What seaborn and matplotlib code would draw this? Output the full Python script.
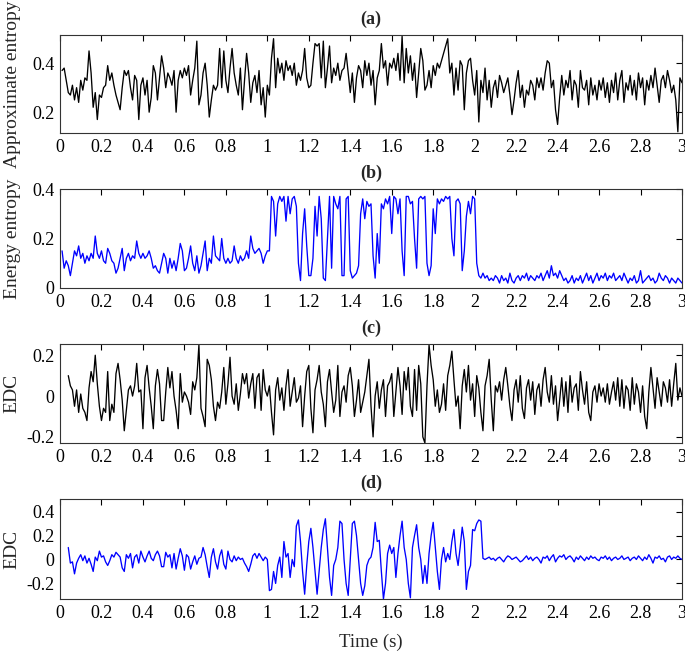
import numpy as np
import pandas as pd
import matplotlib
matplotlib.use("Agg")
import matplotlib.pyplot as plt
import seaborn as sns

# ---------------- data (step 0.01 s) ----------------
t_a_start = 0.01
approx_entropy = [
    0.37, 0.38, 0.33, 0.28, 0.27, 0.31, 0.25, 0.30, 0.24, 0.33,
    0.29, 0.34, 0.33, 0.45, 0.36, 0.22, 0.28, 0.17, 0.27, 0.26,
    0.30, 0.31, 0.39, 0.33, 0.36, 0.31, 0.27, 0.24, 0.21, 0.30,
    0.37, 0.35, 0.37, 0.30, 0.25, 0.35, 0.33, 0.17, 0.31, 0.34,
    0.27, 0.33, 0.20, 0.26, 0.39, 0.36, 0.25, 0.34, 0.43, 0.38,
    0.30, 0.36, 0.34, 0.31, 0.37, 0.20, 0.33, 0.37, 0.34, 0.38,
    0.35, 0.39, 0.27, 0.33, 0.38, 0.49, 0.23, 0.27, 0.36, 0.40,
    0.31, 0.18, 0.25, 0.31, 0.29, 0.31, 0.46, 0.30, 0.45, 0.33,
    0.28, 0.38, 0.46, 0.36, 0.31, 0.27, 0.38, 0.21, 0.33, 0.44,
    0.36, 0.24, 0.32, 0.35, 0.28, 0.37, 0.23, 0.30, 0.18, 0.31,
    0.27, 0.42, 0.50, 0.30, 0.42, 0.36, 0.40, 0.33, 0.41, 0.37,
    0.39, 0.35, 0.40, 0.31, 0.36, 0.33, 0.37, 0.46, 0.34, 0.30,
    0.31, 0.40, 0.48, 0.47, 0.48, 0.34, 0.49, 0.30, 0.38, 0.47,
    0.32, 0.38, 0.35, 0.40, 0.33, 0.37, 0.38, 0.44, 0.36, 0.28,
    0.36, 0.24, 0.34, 0.39, 0.37, 0.30, 0.41, 0.35, 0.40, 0.31,
    0.37, 0.23, 0.34, 0.37, 0.48, 0.38, 0.41, 0.31, 0.40, 0.38,
    0.42, 0.37, 0.44, 0.33, 0.51, 0.32, 0.46, 0.36, 0.43, 0.33,
    0.40, 0.26, 0.36, 0.46, 0.41, 0.29, 0.31, 0.37, 0.30, 0.39,
    0.35, 0.40, 0.38, 0.41, 0.44, 0.47, 0.50, 0.36, 0.40, 0.27,
    0.38, 0.29, 0.41, 0.39, 0.21, 0.36, 0.41, 0.42, 0.33, 0.27,
    0.37, 0.16, 0.33, 0.28, 0.38, 0.25, 0.33, 0.22, 0.30, 0.33,
    0.26, 0.35, 0.32, 0.28, 0.31, 0.34, 0.27, 0.19, 0.25, 0.32,
    0.37, 0.26, 0.31, 0.22, 0.29, 0.27, 0.33, 0.31, 0.25, 0.34,
    0.30, 0.34, 0.29, 0.36, 0.41, 0.40, 0.30, 0.33, 0.21, 0.15,
    0.26, 0.35, 0.27, 0.33, 0.30, 0.37, 0.25, 0.33, 0.31, 0.22,
    0.37, 0.30, 0.29, 0.33, 0.23, 0.34, 0.27, 0.31, 0.25, 0.33,
    0.29, 0.34, 0.26, 0.32, 0.24, 0.33, 0.28, 0.36, 0.25, 0.33,
    0.37, 0.24, 0.32, 0.29, 0.35, 0.27, 0.33, 0.25, 0.36, 0.30,
    0.34, 0.23, 0.33, 0.29, 0.35, 0.30, 0.38, 0.31, 0.24, 0.33,
    0.35, 0.30, 0.37, 0.33, 0.28, 0.31, 0.25, 0.12, 0.34, 0.32,
]

t_b_start = 0.01
energy_entropy = [
    0.15, 0.08, 0.11, 0.09, 0.05, 0.10, 0.15, 0.13, 0.17, 0.12,
    0.14, 0.10, 0.13, 0.11, 0.14, 0.12, 0.21, 0.14, 0.12, 0.15,
    0.11, 0.10, 0.16, 0.14, 0.11, 0.10, 0.06, 0.08, 0.12, 0.16,
    0.07, 0.12, 0.14, 0.11, 0.13, 0.12, 0.19, 0.14, 0.12, 0.14,
    0.12, 0.13, 0.15, 0.12, 0.08, 0.09, 0.07, 0.06, 0.10, 0.14,
    0.12, 0.06, 0.12, 0.08, 0.11, 0.07, 0.12, 0.18, 0.15, 0.07,
    0.08, 0.12, 0.17, 0.10, 0.07, 0.13, 0.06, 0.09, 0.14, 0.19,
    0.07, 0.12, 0.10, 0.21, 0.13, 0.12, 0.11, 0.20, 0.12, 0.10,
    0.12, 0.10, 0.11, 0.17, 0.12, 0.10, 0.13, 0.11, 0.12, 0.15,
    0.12, 0.21, 0.16, 0.14, 0.15, 0.16, 0.14, 0.10, 0.13, 0.15,
    0.15, 0.37, 0.35, 0.21, 0.34, 0.37, 0.35, 0.37, 0.27, 0.37,
    0.30, 0.36, 0.37, 0.33, 0.10, 0.03, 0.22, 0.32, 0.17, 0.05,
    0.05, 0.12, 0.33, 0.21, 0.37, 0.28, 0.04, 0.03, 0.20, 0.37,
    0.08, 0.37, 0.34, 0.32, 0.37, 0.05, 0.05, 0.36, 0.37, 0.07,
    0.04, 0.05, 0.06, 0.09, 0.30, 0.36, 0.28, 0.35, 0.33, 0.34,
    0.13, 0.04, 0.22, 0.10, 0.34, 0.32, 0.36, 0.34, 0.37, 0.22,
    0.37, 0.36, 0.30, 0.36, 0.15, 0.05, 0.37, 0.37, 0.34, 0.35,
    0.20, 0.08, 0.36, 0.37, 0.36, 0.37, 0.10, 0.05, 0.09, 0.32,
    0.22, 0.36, 0.34, 0.36, 0.35, 0.37, 0.36, 0.37, 0.20, 0.13,
    0.35, 0.36, 0.34, 0.07, 0.15, 0.29, 0.35, 0.30, 0.37, 0.36,
    0.10, 0.05, 0.04, 0.06, 0.04, 0.05, 0.03, 0.04, 0.03, 0.05,
    0.04, 0.02, 0.05, 0.03, 0.04, 0.02, 0.06, 0.03, 0.02, 0.04,
    0.05, 0.03, 0.05, 0.04, 0.06, 0.03, 0.05, 0.04, 0.03, 0.05,
    0.04, 0.06, 0.03, 0.05, 0.07, 0.04, 0.09, 0.05, 0.06, 0.04,
    0.07, 0.05, 0.03, 0.04, 0.02, 0.03, 0.05, 0.02, 0.04, 0.03,
    0.05, 0.02, 0.04, 0.06, 0.03, 0.05, 0.02, 0.04, 0.06, 0.03,
    0.05, 0.04, 0.06, 0.03, 0.05, 0.04, 0.06, 0.03, 0.04, 0.05,
    0.03, 0.06, 0.04, 0.02, 0.04, 0.03, 0.05, 0.02, 0.03, 0.07,
    0.02, 0.03, 0.04, 0.05, 0.03, 0.04, 0.02, 0.03, 0.06, 0.04,
    0.03, 0.05, 0.04, 0.02, 0.04, 0.03, 0.02, 0.04, 0.03, 0.02,
]

t_c_start = 0.04
edc_c = [
    0.10, 0.05, 0.03, -0.05, 0.03, -0.08, 0.01,
    -0.06, -0.08, -0.12, 0.04, 0.12, 0.07, 0.20, 0.06, -0.05, -0.12,
    -0.06, -0.08, 0.12, -0.12, -0.04, -0.08, 0.11, 0.16, 0.08, -0.02,
    -0.17, -0.07, 0.03, 0.05, 0.00, 0.05, 0.16, 0.02, 0.03, -0.16,
    0.09, 0.15, 0.04, -0.05, -0.16, 0.05, 0.13, 0.06, -0.12, -0.12,
    0.02, 0.14, 0.04, 0.12, 0.00, -0.07, -0.16, 0.11, -0.03, 0.02,
    0.00, -0.03, -0.09, 0.07, 0.03, 0.09, 0.25, -0.06, -0.10, -0.15,
    0.18, 0.15, 0.08, -0.05, -0.12, -0.03, -0.06, 0.02, 0.14, -0.04,
    0.06, 0.19, 0.00, -0.04, 0.06, -0.07, 0.01, 0.11, 0.06, 0.11,
    -0.01, 0.06, 0.11, -0.06, 0.09, 0.11, -0.07, 0.13, 0.03, 0.00,
    0.05, -0.08, -0.19, 0.03, 0.09, -0.02, 0.04, -0.07, 0.05, 0.13,
    -0.05, 0.02, 0.09, -0.03, -0.01, 0.05, -0.15, 0.00, 0.12, 0.15,
    -0.06, -0.18, 0.03, 0.08, 0.15, 0.02, -0.04, -0.15, 0.07, 0.13,
    0.02, -0.08, -0.02, 0.15, -0.10, 0.02, 0.05, -0.03, 0.10, 0.14,
    0.05, -0.10, -0.02, 0.08, -0.08, -0.03, 0.02, 0.10, 0.18, -0.05,
    -0.20, 0.00, 0.07, -0.06, 0.03, 0.08, -0.10, 0.05, 0.07, 0.11,
    -0.10, 0.02, 0.14, 0.05, -0.09, 0.12, 0.03, 0.14, -0.05, -0.10,
    0.13, -0.07, 0.15, 0.06, -0.20, -0.23, 0.05, 0.25, 0.15, 0.08,
    -0.05, 0.03, -0.08, -0.04, 0.06, -0.07, 0.10, 0.15, 0.22, 0.08,
    -0.05, 0.00, -0.16, 0.05, 0.13, 0.02, 0.15, -0.02, 0.06, -0.10,
    0.10, 0.04, -0.08, -0.17, 0.05, 0.10, 0.18, -0.02, -0.17, 0.05,
    0.02, 0.07, -0.02, 0.08, 0.14, 0.05, -0.05, -0.12, 0.03, 0.08,
    -0.03, 0.10, -0.06, -0.11, 0.04, 0.08, -0.02, 0.07, -0.09, 0.03,
    0.06, -0.05, 0.08, 0.14, 0.02, -0.03, 0.10, -0.04, 0.05, -0.12,
    -0.02, 0.09, -0.05, 0.07, -0.08, 0.10, -0.03, 0.04, 0.06, -0.07,
    0.12, 0.03, -0.04, 0.07, -0.08, -0.12, 0.02, 0.05, -0.03, 0.06,
    0.00, 0.04, -0.03, 0.06, -0.04, 0.02, 0.07, -0.02, 0.09, -0.05,
    0.08, -0.06, 0.05, 0.03, -0.07, 0.09, -0.04, 0.06, 0.02, -0.08,
    0.05, -0.10, -0.16, 0.02, 0.14, 0.04, -0.06, 0.09, 0.02, -0.05,
    0.07, 0.04, -0.03, 0.08, -0.05, 0.06, 0.16, -0.02, 0.04, 0.00,
]

t_d_start = 0.04
edc_d = [
    0.10, -0.03, -0.02, -0.12, -0.03, 0.01, 0.04,
    -0.01, 0.03, -0.03, 0.01, -0.04, -0.10, 0.02, -0.01, 0.07, 0.02,
    0.03, -0.02, -0.05, -0.01, 0.04, 0.02, 0.06, 0.04, 0.02, -0.07,
    -0.10, 0.04, 0.01, 0.05, -0.07, 0.02, 0.04, -0.03, 0.07, 0.02,
    -0.02, 0.03, 0.07, 0.01, -0.01, 0.04, 0.07, 0.03, -0.06, -0.06,
    0.06, 0.02, 0.04, -0.07, 0.05, -0.08, 0.01, 0.09, 0.03, -0.09,
    0.04, 0.02, -0.08, -0.02, 0.03, -0.04, 0.01, 0.02, 0.10, 0.04,
    -0.06, -0.15, 0.02, 0.09, -0.02, -0.08, 0.03, 0.08, -0.04, -0.08,
    0.07, 0.00, -0.02, 0.03, -0.01, 0.02, 0.00, 0.01, -0.03, -0.06,
    -0.10, -0.04, 0.03, 0.05, 0.01, 0.05, 0.02, -0.01, 0.02, 0.00,
    -0.26, -0.25, -0.10, -0.20, -0.05, 0.02, -0.15, 0.15, 0.02, 0.05,
    -0.15, 0.00, -0.06, 0.28, 0.33, 0.15, -0.10, -0.29, -0.05, 0.15,
    0.26, 0.10, -0.10, -0.29, -0.10, 0.10, 0.25, 0.34, 0.10, -0.15,
    -0.30, -0.05, 0.00, 0.10, 0.32, 0.30, 0.00, -0.20, -0.30, 0.00,
    0.30, 0.32, 0.20, 0.00, -0.20, -0.30, -0.22, -0.05, 0.00, 0.02,
    0.10, 0.31, 0.15, 0.16, -0.10, -0.33, -0.20, 0.05, 0.12, 0.05,
    0.10, -0.15, 0.05, 0.20, 0.32, 0.10, 0.00, -0.20, -0.32, 0.10,
    0.20, 0.29, 0.10, 0.00, -0.20, -0.05, -0.20, 0.05, 0.20, 0.31,
    0.10, -0.10, -0.25, 0.00, 0.10, -0.02, 0.05, 0.00, 0.15, 0.25,
    0.05, -0.05, 0.10, 0.27, 0.15, -0.25, -0.10, -0.05, 0.25, 0.24,
    0.30, 0.33, 0.32, 0.01, 0.00, 0.01, 0.02, 0.00, 0.01, -0.01,
    0.01, 0.02, 0.00, -0.02, 0.01, 0.03, 0.02, 0.00, 0.01, 0.02,
    0.00, -0.02, -0.01, 0.01, 0.03, 0.00, 0.02, -0.01, 0.01, 0.02,
    0.00, -0.03, 0.02, 0.01, 0.03, -0.01, 0.02, 0.04, -0.02, 0.01,
    0.03, 0.02, 0.04, 0.00, 0.02, 0.03, 0.01, -0.02, 0.02, 0.00,
    0.03, 0.01, -0.01, 0.02, 0.00, 0.03, 0.01, 0.02, 0.00, -0.01,
    0.02, 0.01, 0.03, 0.00, 0.02, -0.01, 0.01, 0.02, 0.00, 0.01,
    0.03, 0.00, 0.01, 0.02, -0.01, 0.01, 0.02, 0.00, 0.03, 0.01,
    -0.01, 0.02, 0.00, 0.04, 0.01, -0.03, 0.02, 0.01, 0.03, 0.00,
    0.01, -0.02, 0.02, 0.03, 0.00, 0.02, 0.01, 0.03, 0.01, 0.00,
]

panel_titles = ["(a)", "(b)", "(c)", "(d)"]
y_labels = ["Approximate entropy", "Energy entropy", "EDC", "EDC"]
x_label = "Time (s)"
x_ticks = [0, 0.2, 0.4, 0.6, 0.8, 1, 1.2, 1.4, 1.6, 1.8, 2, 2.2, 2.4, 2.6, 2.8, 3]
y_ticks = [[0.2, 0.4], [0, 0.2, 0.4], [-0.2, 0, 0.2], [-0.2, 0, 0.2, 0.4]]

# ---------------- styling ----------------
sns.set_theme(style="white")
plt.rcParams["font.family"] = ["Liberation Serif", "DejaVu Serif"]
plt.rcParams["axes.unicode_minus"] = False
plt.rcParams["font.size"] = 13

fig = plt.figure(figsize=(6.85, 6.52), dpi=100)

left, width = 60 / 685, 622 / 685
panel_px = [(35, 133), (189, 288), (344, 443), (499, 599)]
ylims = [(0.115, 0.515), (0, 0.4), (-0.23, 0.255), (-0.33, 0.505)]
colors = ["black", "#0000FF", "black", "#0000FF"]
series = [(t_a_start, approx_entropy), (t_b_start, energy_entropy),
          (t_c_start, edc_c), (t_d_start, edc_d)]

def fmt(v):
    return f"{v:g}"

for i, ((top, bot), (t0, vals)) in enumerate(zip(panel_px, series)):
    ax = fig.add_axes([left, 1 - bot / 652, width, (bot - top) / 652])
    t = t0 + 0.01 * np.arange(len(vals))
    df = pd.DataFrame({"t": t, "v": vals})
    sns.lineplot(data=df, x="t", y="v", ax=ax, color=colors[i], lw=0.95)
    ax.set_xlim(0, 3)
    ax.set_ylim(*ylims[i])
    ax.set_xticks(x_ticks)
    ax.set_xticklabels([fmt(v) for v in x_ticks], fontsize=13)
    ax.set_yticks(y_ticks[i])
    ax.set_yticklabels([fmt(v) for v in y_ticks[i]], fontsize=13)
    ax.tick_params(direction="in", length=4, width=0.8, top=True, right=True,
                   pad=4, colors="black")
    for s in ax.spines.values():
        s.set_color("#333333")
        s.set_linewidth(0.8)
    ax.set_title(panel_titles[i], fontweight="bold", fontsize=13, pad=8)
    ax.set_ylabel(y_labels[i], fontsize=14)
    ax.yaxis.set_label_coords(-0.0635, 0.5)
    if i == 3:
        ax.set_xlabel(x_label, fontsize=13.5, labelpad=9)
    else:
        ax.set_xlabel("")

fig.savefig("out.png", dpi=100)
